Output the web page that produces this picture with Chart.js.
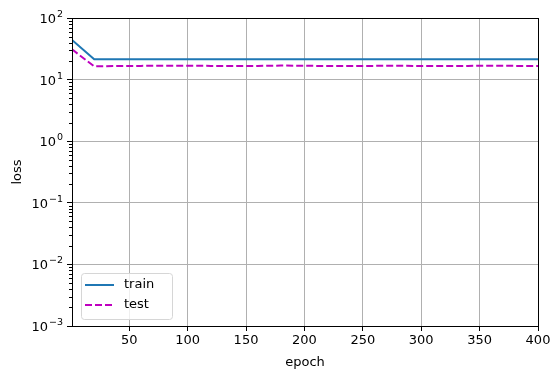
<!DOCTYPE html>
<html lang="en">
<head>
    <meta charset="UTF-8">
    <title>loss vs epoch</title>
    <script src="https://cdn.jsdelivr.net/npm/chart.js"></script>
    <style>
        body { margin: 0; background: #ffffff; }
        #wrap { width: 560px; height: 379px; }
    </style>
</head>
<body>
    <div id="wrap"><canvas id="lossChart" width="560" height="379"></canvas></div>
    <script>
        // values
        const epochs = [1, 20, 40, 60, 80, 100, 120, 140, 160, 180, 200, 220, 240, 260, 280, 300, 320, 340, 360, 380, 400];
        const trainLoss = [44, 21.3, 21.3, 21.3, 21.3, 21.3, 21.3, 21.3, 21.3, 21.3, 21.3, 21.3, 21.3, 21.3, 21.3, 21.3, 21.3, 21.3, 21.3, 21.3, 21.3];
        const testLoss = [31, 16.4, 16.6, 16.7, 16.8, 16.8, 16.7, 16.7, 16.7, 16.9, 16.8, 16.6, 16.7, 16.7, 16.8, 16.6, 16.7, 16.7, 16.8, 16.7, 16.7];
        const xTicks = [50, 100, 150, 200, 250, 300, 350, 400];
        const yExponents = [-3, -2, -1, 0, 1, 2];

        const FONT = "'DejaVu Sans', sans-serif";

        // frame, minor ticks, 10^n labels and legend, matplotlib style
        const decor = {
            id: "decor",
            afterDraw(chart) {
                const ctx = chart.ctx;
                const a = chart.chartArea;
                const y = chart.scales.y;
                ctx.save();
                ctx.strokeStyle = "#000";
                ctx.lineWidth = 1;
                for (let e = -3; e < 2; e++) {
                    for (let k = 2; k <= 9; k++) {
                        const py = Math.round(y.getPixelForValue(k * Math.pow(10, e))) + 0.5;
                        ctx.beginPath();
                        ctx.moveTo(a.left - 3, py);
                        ctx.lineTo(a.left, py);
                        ctx.stroke();
                    }
                }
                ctx.strokeRect(Math.round(a.left) + 0.5, Math.round(a.top) + 0.5,
                    Math.round(a.right - a.left), Math.round(a.bottom - a.top));

                // y tick labels as 10 with raised exponent
                ctx.fillStyle = "#000";
                ctx.textBaseline = "alphabetic";
                yExponents.forEach(e => {
                    const py = y.getPixelForValue(Math.pow(10, e));
                    const ex = e < 0 ? "\u2212" + (-e) : String(e);
                    ctx.font = "9.5px " + FONT;
                    const ew = ctx.measureText(ex).width;
                    const right = a.left - 9;
                    ctx.textAlign = "left";
                    ctx.fillText(ex, right - ew, py - 1);
                    ctx.font = "13px " + FONT;
                    ctx.textAlign = "right";
                    ctx.fillText("10", right - ew - 1, py + 5);
                });

                // legend box
                const lx = a.left + 9, ly = a.bottom - 53, lw = 91, lh = 46;
                ctx.fillStyle = "rgba(255,255,255,0.8)";
                ctx.strokeStyle = "#d6d6d6";
                ctx.beginPath();
                ctx.roundRect(lx + 0.5, ly + 0.5, lw, lh, 3);
                ctx.fill();
                ctx.stroke();
                chart.data.datasets.forEach((ds, i) => {
                    const yy = ly + 12 + i * 20;
                    ctx.strokeStyle = ds.borderColor;
                    ctx.lineWidth = 2;
                    ctx.setLineDash(ds.borderDash || []);
                    ctx.beginPath();
                    ctx.moveTo(lx + 4, yy);
                    ctx.lineTo(lx + 33, yy);
                    ctx.stroke();
                    ctx.setLineDash([]);
                    ctx.fillStyle = "#000";
                    ctx.font = "13px " + FONT;
                    ctx.textAlign = "left";
                    ctx.textBaseline = "middle";
                    ctx.fillText(ds.label, lx + 43, yy);
                });
                ctx.restore();
            }
        };

        new Chart(document.getElementById("lossChart"), {
            type: "line",
            data: {
                datasets: [{
                    label: "train",
                    data: epochs.map((e, i) => ({ x: e, y: trainLoss[i] })),
                    borderColor: "#1f77b4",
                    borderWidth: 2,
                    pointRadius: 0,
                    tension: 0
                }, {
                    label: "test",
                    data: epochs.map((e, i) => ({ x: e, y: testLoss[i] })),
                    borderColor: "#bf00bf",
                    borderWidth: 2,
                    borderDash: [7, 3],
                    pointRadius: 0,
                    tension: 0
                }]
            },
            options: {
                responsive: false,
                animation: false,
                layout: { padding: { left: 0, right: 22, top: 18, bottom: 0 } },
                plugins: { legend: { display: false }, tooltip: { enabled: false } },
                scales: {
                    x: {
                        type: "linear",
                        min: 1,
                        max: 400,
                        afterBuildTicks: s => { s.ticks = xTicks.map(v => ({ value: v })); },
                        afterFit: s => { s.height = 53; },
                        grid: { color: "#b0b0b0", lineWidth: 1, tickColor: "#000", tickLength: 5 },
                        border: { color: "#000" },
                        ticks: { color: "#000", font: { family: FONT, size: 13 }, padding: 2, maxRotation: 0 },
                        title: { display: true, text: "epoch", color: "#000", font: { family: FONT, size: 13 }, padding: { top: 0, bottom: 9 } }
                    },
                    y: {
                        type: "logarithmic",
                        min: 1e-3,
                        max: 1e2,
                        afterBuildTicks: s => { s.ticks = yExponents.map(e => ({ value: Math.pow(10, e) })); },
                        afterFit: s => { s.width = 72; },
                        grid: { color: "#b0b0b0", lineWidth: 1, tickColor: "#000", tickLength: 5 },
                        border: { color: "#000" },
                        ticks: { color: "#000", font: { family: FONT, size: 13 }, padding: 3, callback: () => "" },
                        title: { display: true, text: "loss", color: "#000", font: { family: FONT, size: 13 }, padding: { top: 10, bottom: 4 } }
                    }
                }
            },
            plugins: [decor]
        });
    </script>
</body>
</html>
